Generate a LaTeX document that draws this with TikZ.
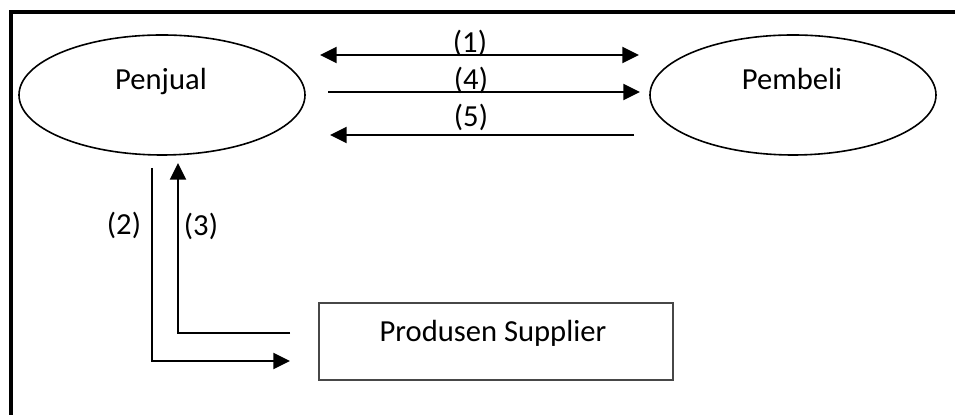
\documentclass[tikz,border=0pt]{standalone}
\usepackage{fontspec}
\setmainfont{Carlito}
\usetikzlibrary{shapes.geometric,arrows.meta}
\begin{document}
\begin{tikzpicture}[x=0.5pt,y=-0.5pt,
  party/.style={draw, ellipse, line width=0.8pt, minimum width=143pt, minimum height=60pt, inner sep=0pt},
  supplier/.style={draw=black!72, line width=1pt, minimum width=177pt, minimum height=38.5pt, inner sep=0pt},
  txt/.style={font=\fontsize{15.3}{18}\selectfont, anchor=base, inner sep=0pt},
  flow/.style={line width=1pt, -{Triangle[length=8.3pt,width=8pt]}},
  biflow/.style={line width=1pt, {Triangle[length=8.3pt,width=8pt]}-{Triangle[length=8.3pt,width=8pt]}},
  frameline/.style={line width=1.8pt, line join=miter}]
\useasboundingbox (0,0) rectangle (955,415);

% outer frame (left and top edges)
\draw[frameline] (11,430) -- (11,12) -- (970,12);

% parties
\node[party] (pj) at (162,95) {};
\node[txt] (pjt) at (161,90) {Penjual};
\node[party] (pb) at (793,95) {};
\node[txt] (pbt) at (792,90) {Pembeli};

% supplier box
\node[supplier] (sp) at (496,341.5) {};
\node[txt] (spt) at (493,342) {Produsen Supplier};

% arrow end points between the parties
\coordinate (a1l) at (320,55);
\coordinate (a1r) at (639,55);
\coordinate (a4l) at (328,92);
\coordinate (a4r) at (640,92);
\coordinate (a5l) at (330,135);
\coordinate (a5r) at (634,135);

\draw[biflow] (a1l) -- (a1r);
\draw[flow] (a4l) -- (a4r);
\draw[flow] (a5r) -- (a5l);

\node[txt] (l1) at (470,53) {(1)};
\node[txt] (l4) at (471,90) {(4)};
\node[txt] (l5) at (471,127) {(5)};

% flows to and from the supplier
\coordinate (b2s) at (152,168);
\coordinate (b2e) at (290,361);
\coordinate (b3s) at (290,333);
\coordinate (b3e) at (178,163);

\draw[flow, line join=miter] (b2s) |- (b2e);
\draw[flow, line join=miter] (b3s) -| (b3e);

\node[txt] (l2) at (124,235) {(2)};
\node[txt] (l3) at (201,236) {(3)};
\end{tikzpicture}
\end{document}
